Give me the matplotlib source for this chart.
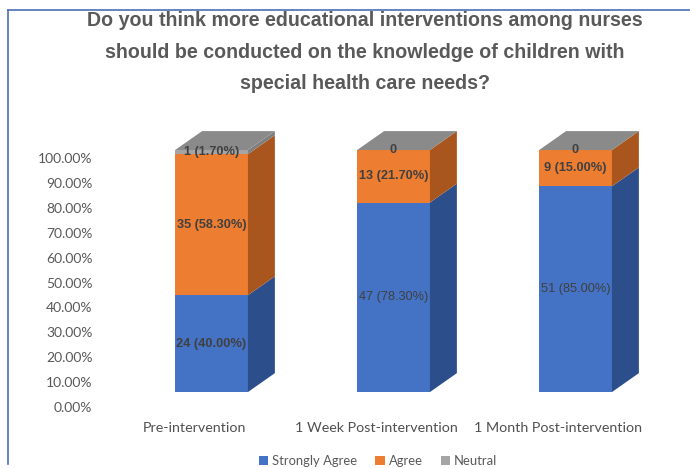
import matplotlib.pyplot as plt
from matplotlib.patches import Polygon, Rectangle
from matplotlib.lines import Line2D

categories = ['Pre-intervention', '1 Week Post-intervention', '1 Month Post-intervention']
series = ['Strongly Agree', 'Agree', 'Neutral']
counts = {
    'Strongly Agree': [24, 47, 51],
    'Agree': [35, 13, 9],
    'Neutral': [1, 0, 0],
}
percents = {
    'Strongly Agree': [40.00, 78.30, 85.00],
    'Agree': [58.30, 21.70, 15.00],
    'Neutral': [1.70, 0.00, 0.00],
}
yticks = [0, 10, 20, 30, 40, 50, 60, 70, 80, 90, 100]

front = {'Strongly Agree': '#4472C4', 'Agree': '#ED7D31', 'Neutral': '#A5A5A5'}
side = {'Strongly Agree': '#2C4F8C', 'Agree': '#A9561E', 'Neutral': '#7F7F7F'}
top_color = '#8A8A8A'

# fake 3d geometry (data units)
x0, width = -0.104, 0.40
dx, dy = 0.148, 7.6


def fy(v):
    # front face sits a bit below / shorter than the axis scale
    return 6 + 0.972 * v


fig = plt.figure(figsize=(6.9, 4.68), dpi=100)
ax = fig.add_axes([130 / 690, 1 - 407 / 468, 530 / 690, 300 / 468])
ax.set_xlim(-0.352, 2.56)
ax.set_ylim(0, 300 / 2.49)

for i, cat in enumerate(categories):
    xl = i + x0
    xr = xl + width
    bottom = 0
    for s in series:
        p = percents[s][i]
        y0, y1 = fy(bottom), fy(bottom + p)
        if p > 0:
            ax.add_patch(Rectangle((xl, y0), width, y1 - y0, facecolor=front[s],
                                   edgecolor='none', clip_on=False))
            ax.add_patch(Polygon([(xr, y0), (xr + dx, y0 + dy), (xr + dx, y1 + dy), (xr, y1)],
                                 closed=True, facecolor=side[s], edgecolor='none', clip_on=False))
        if counts[s][i] == 0:
            label = '0'
        else:
            label = f'{counts[s][i]} ({p:.2f}%)'
        weight = 'normal' if (s == 'Strongly Agree' and i > 0) else 'bold'
        ax.text(xl + width / 2, (y0 + y1) / 2, label, ha='center', va='center',
                fontsize=9.2, color='#404040', fontweight=weight,
                family='Liberation Sans')
        bottom += p
    yt = fy(bottom)
    ax.add_patch(Polygon([(xl, yt), (xl + dx, yt + dy), (xr + dx, yt + dy), (xr, yt)],
                         closed=True, facecolor=top_color, edgecolor='none', clip_on=False))

ax.set_yticks(yticks)
ax.set_yticklabels([f'{v:.2f}%' for v in yticks])
ax.set_xticks(range(len(categories)))
ax.set_xticklabels(categories)
ax.tick_params(axis='y', length=0, pad=27, labelsize=10, labelcolor='#595959')
ax.tick_params(axis='x', length=0, pad=11, labelsize=10.3, labelcolor='#505050')
for lab in ax.get_xticklabels() + ax.get_yticklabels():
    lab.set_family('Lato')
for sp in ax.spines.values():
    sp.set_visible(False)
ax.patch.set_visible(False)

fig.text(365 / 690, 1 - 52 / 468,
         'Do you think more educational interventions among nurses\n'
         'should be conducted on the knowledge of children with\n'
         'special health care needs?',
         ha='center', va='center', fontsize=14.1, fontweight='bold',
         color='#595959', family='Liberation Sans', linespacing=1.85)

handles = [Rectangle((0, 0), 1, 1, facecolor=front[s], edgecolor='none') for s in series]
fig.legend(handles, series, loc='center', bbox_to_anchor=(378 / 690, 1 - 461 / 468),
           ncol=3, frameon=False, handlelength=0.7, handleheight=0.7,
           handletextpad=0.3, columnspacing=1.4, labelcolor='#595959',
           prop={'family': 'Lato', 'size': 9.4})

# thin blue frame lines on top and left
fig.add_artist(Line2D([8 / 690, 1], [1 - 10 / 468, 1 - 10 / 468], color='#4A6FB5', lw=1.2))
fig.add_artist(Line2D([8 / 690, 8 / 690], [1 - 10 / 468, 1 - 464 / 468], color='#4A6FB5', lw=1.2))

fig.savefig('out.png', dpi=100)
